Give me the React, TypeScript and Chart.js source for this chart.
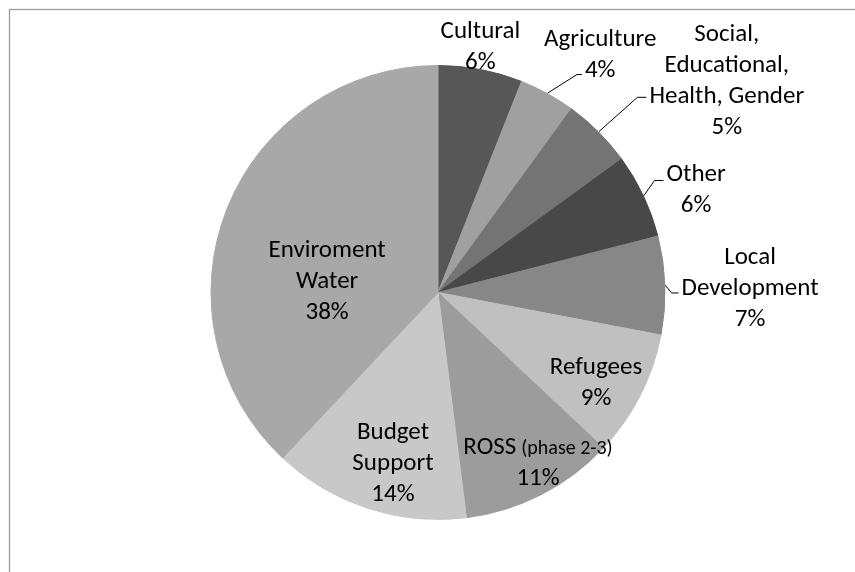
import React, { useEffect, useRef } from "react";
import { Chart, registerables } from "chart.js";

Chart.register(...registerables);

// ---- data ----
const categories = [
  "Cultural",
  "Agriculture",
  "Social, Educational, Health, Gender",
  "Other",
  "Local Development",
  "Refugees",
  "ROSS (phase 2-3)",
  "Budget Support",
  "Enviroment Water",
];
const shares = [6, 4, 5, 6, 7, 9, 11, 14, 38];
const labelLines = [
  ["Cultural"],
  ["Agriculture"],
  ["Social,", "Educational,", "Health, Gender"],
  ["Other"],
  ["Local", "Development"],
  ["Refugees"],
  ["ROSS (phase 2-3)"],
  ["Budget", "Support"],
  ["Enviroment", "Water"],
];
const sliceColors = [
  "#575757",
  "#a0a0a0",
  "#747474",
  "#484848",
  "#878787",
  "#c0c0c0",
  "#9c9c9c",
  "#c8c8c8",
  "#a8a8a8",
];

// ---- label placement (style/layout, relative to each slice) ----
// da: angle offset from slice mid-angle (deg, clockwise), k: distance as fraction of radius
const labelLayout = [
  { da: -1.1, k: 1.106 },
  { da: 5.2, k: 1.275, leader: { line: 1, hlen: 5, dy: 7 } },
  { da: 8.5, k: 1.579, leader: { line: 2, hlen: 9, dy: 3 } },
  { da: 3.15, k: 1.224, leader: { line: 0, hlen: 9, dy: 8 } },
  { da: 0.6, k: 1.372, leader: { line: 1, hlen: 7, dy: 7 } },
  { da: 2.0, k: 0.794 },
  { da: -3.7, k: 0.861 },
  { da: -3.0, k: 0.765 },
  { da: -14.7, k: 0.491 },
];

const FONT_FAMILY = "Carlito, Calibri, Lato, 'Liberation Sans', sans-serif";
const FONT_SIZE = 25;
const SMALL_SIZE = 20;
const LINE_H = 31;
const BASE_OFFSET = 9;

function drawLine(ctx: CanvasRenderingContext2D, text: string, cx: number, baseY: number) {
  const idx = text.indexOf(" (");
  if (idx < 0) {
    ctx.font = `${FONT_SIZE}px ${FONT_FAMILY}`;
    const w = ctx.measureText(text).width;
    ctx.textAlign = "left";
    ctx.fillText(text, cx - w / 2, baseY);
    return cx - w / 2;
  }
  const main = text.slice(0, idx);
  const small = text.slice(idx + 1);
  ctx.font = `${FONT_SIZE}px ${FONT_FAMILY}`;
  const w1 = ctx.measureText(main).width;
  const gap = 5;
  ctx.font = `${SMALL_SIZE}px ${FONT_FAMILY}`;
  const w2 = ctx.measureText(small).width;
  const total = w1 + gap + w2;
  const left = cx - total / 2;
  ctx.textAlign = "left";
  ctx.font = `${FONT_SIZE}px ${FONT_FAMILY}`;
  ctx.fillText(main, left, baseY);
  ctx.font = `${SMALL_SIZE}px ${FONT_FAMILY}`;
  ctx.fillText(small, left + w1 + gap, baseY);
  return left;
}

function lineWidth(ctx: CanvasRenderingContext2D, text: string) {
  ctx.font = `${FONT_SIZE}px ${FONT_FAMILY}`;
  return ctx.measureText(text).width;
}

const framePlugin = {
  id: "frame",
  beforeDraw(chart: any) {
    const ctx = chart.ctx as CanvasRenderingContext2D;
    ctx.save();
    ctx.strokeStyle = "#9a9a9a";
    ctx.lineWidth = 1.3;
    ctx.strokeRect(9.5, 9.5, 2000, 2000);
    ctx.restore();
  },
};

const labelPlugin = {
  id: "sliceLabels",
  afterDatasetsDraw(chart: any) {
    const ctx = chart.ctx as CanvasRenderingContext2D;
    const meta = chart.getDatasetMeta(0);
    ctx.save();
    ctx.fillStyle = "#000000";
    ctx.textBaseline = "alphabetic";
    meta.data.forEach((arc: any, i: number) => {
      const p = arc.getProps(["x", "y", "startAngle", "endAngle", "outerRadius"], true);
      const r = p.outerRadius + 0.5;
      const mid = (p.startAngle + p.endAngle) / 2;
      const L = labelLayout[i];
      const a = mid + (L.da * Math.PI) / 180;
      const bx = p.x + Math.cos(a) * L.k * r;
      const by = p.y + Math.sin(a) * L.k * r;
      const lines = [...labelLines[i], `${shares[i]}%`];
      const n = lines.length;
      const firstMid = by - ((n - 1) / 2) * LINE_H;
      lines.forEach((t, j) => {
        const m = firstMid + j * LINE_H;
        drawLine(ctx, t, bx, m + BASE_OFFSET);
      });
      if (L.leader) {
        const ld = L.leader;
        const lm = firstMid + ld.line * LINE_H;
        const tw = lineWidth(ctx, lines[ld.line]);
        const endX = bx - tw / 2 - 3;
        const yy = lm + ld.dy;
        const sx = p.x + Math.cos(mid) * r;
        const sy = p.y + Math.sin(mid) * r;
        ctx.beginPath();
        ctx.strokeStyle = "#000000";
        ctx.lineWidth = 1;
        ctx.moveTo(sx, sy);
        ctx.lineTo(endX - ld.hlen, yy);
        ctx.lineTo(endX, yy);
        ctx.stroke();
      }
    });
    ctx.restore();
  },
};

export default function App() {
  const canvasRef = useRef<HTMLCanvasElement | null>(null);

  useEffect(() => {
    if (!canvasRef.current) return;
    const chart = new Chart(canvasRef.current, {
      type: "pie",
      data: {
        labels: categories,
        datasets: [
          {
            data: shares,
            backgroundColor: sliceColors,
            borderColor: sliceColors,
            borderWidth: 1,
            hoverOffset: 0,
            offset: 0,
          },
        ],
      },
      options: {
        animation: false,
        responsive: false,
        events: [],
        layout: { padding: { left: 210.5, right: 189.5, top: 65, bottom: 52 } },
        plugins: {
          legend: { display: false },
          tooltip: { enabled: false },
        },
      },
      plugins: [framePlugin, labelPlugin],
    });
    return () => chart.destroy();
  }, []);

  return (
    <div style={{ position: "absolute", left: 0, top: 0, width: 855, height: 572, background: "#ffffff" }}>
      <canvas ref={canvasRef} width={855} height={572} style={{ display: "block", width: 855, height: 572 }} />
    </div>
  );
}
